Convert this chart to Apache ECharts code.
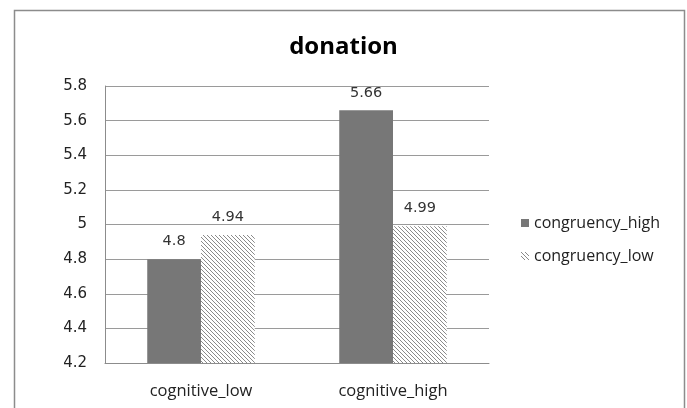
<!DOCTYPE html>
<html>
<head>
<meta charset="utf-8">
<script src="https://cdn.jsdelivr.net/npm/echarts@6/dist/echarts.min.js"></script>
<style>html,body{margin:0;padding:0;background:#fff;}#c{width:687px;height:408px;}</style>
</head>
<body>
<div id="c"></div>
<script>
const categories = ['cognitive_low', 'cognitive_high'];
const congruencyHigh = [4.8, 5.66];
const congruencyLow = [4.94, 4.99];
const seriesNames = ['congruency_high', 'congruency_low'];

function hatch() {
  const c = document.createElement('canvas');
  c.width = 4; c.height = 4;
  const g = c.getContext('2d');
  g.fillStyle = '#ffffff';
  g.fillRect(0, 0, 4, 4);
  g.fillStyle = '#8a8a8a';
  for (let i = 0; i < 4; i++) g.fillRect(i, i, 1, 1);
  return c;
}
const hatchPattern = { image: hatch(), repeat: 'repeat' };

const chart = echarts.init(document.getElementById('c'), null, { renderer: 'canvas' });
const labelStyle = { show: true, position: 'top', distance: 10, color: '#333', fontFamily: 'DejaVu Sans', fontSize: 14.5 };
chart.setOption({
  animation: false,
  backgroundColor: '#fff',
  title: {
    text: 'donation', left: 'center', top: 30,
    textStyle: { fontFamily: 'Open Sans', fontWeight: 'bold', fontSize: 24, color: '#000' }
  },
  graphic: [{
    type: 'rect', left: 12, top: 8, silent: true,
    shape: { width: 670, height: 410 },
    style: { fill: 'none', stroke: '#8c8c8c', lineWidth: 1.5 }
  }],
  legend: {
    orient: 'vertical', left: 516, top: 210, itemWidth: 8, itemHeight: 8, itemGap: 17,
    icon: 'rect',
    textStyle: { fontFamily: 'Open Sans', fontSize: 16, color: '#222' },
    data: seriesNames
  },
  grid: { left: 105, right: 198, top: 86, bottom: 45, containLabel: false },
  xAxis: {
    type: 'category', data: categories,
    axisLine: { lineStyle: { color: '#8c8c8c', width: 1 } },
    axisTick: { show: false },
    axisLabel: { margin: 20, fontFamily: 'Open Sans', fontSize: 16.5, color: '#222' }
  },
  yAxis: {
    type: 'value', min: 4.2, max: 5.8, interval: 0.2,
    axisLine: { show: true, lineStyle: { color: '#8c8c8c' } },
    axisTick: { show: false },
    splitLine: { lineStyle: { color: '#9a9a9a', width: 1 } },
    axisLabel: { margin: 18, fontFamily: 'DejaVu Sans', fontSize: 15, color: '#222',
      formatter: v => String(Math.round(v * 10) / 10) }
  },
  series: [
    { name: seriesNames[0], type: 'bar', data: congruencyHigh, barGap: '0%', barCategoryGap: '44%',
      itemStyle: { color: '#777777' }, label: labelStyle },
    { name: seriesNames[1], type: 'bar', data: congruencyLow,
      itemStyle: { color: hatchPattern }, label: labelStyle }
  ]
});
</script>
</body>
</html>
